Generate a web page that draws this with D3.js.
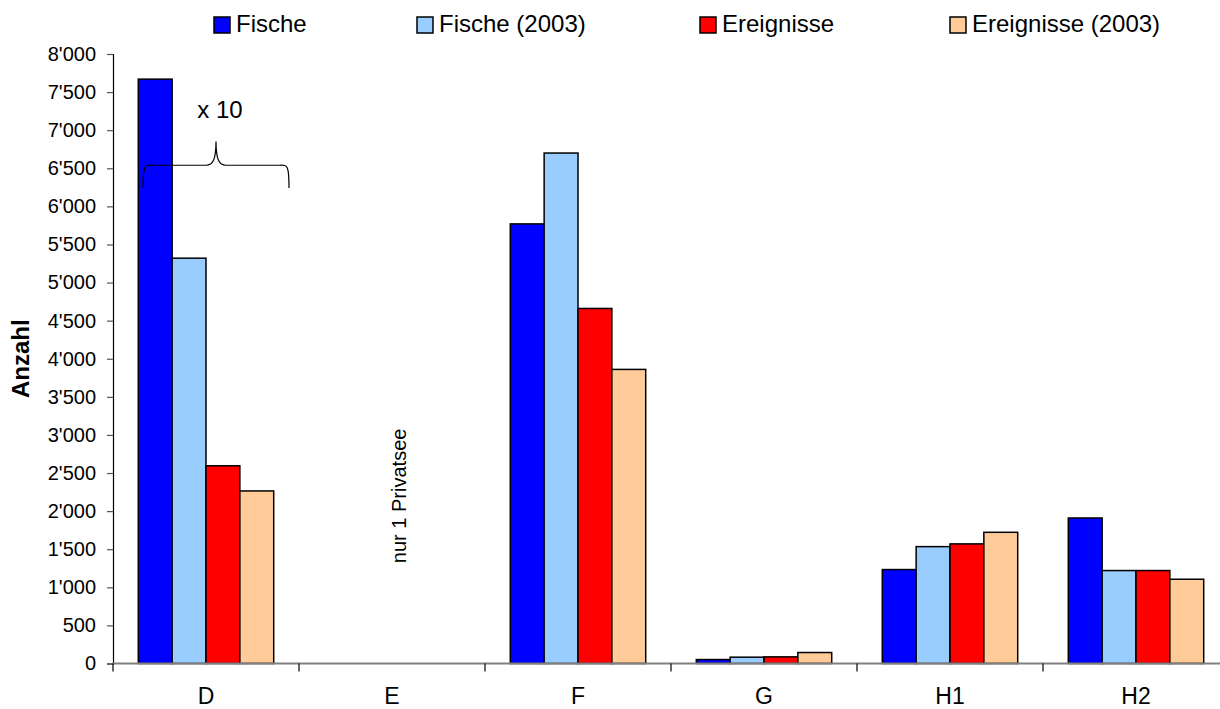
<!DOCTYPE html>
<html>
<head>
<meta charset="utf-8">
<script src="https://cdn.jsdelivr.net/npm/d3@7"></script>
<style>
  html, body { margin: 0; padding: 0; background: #fff; }
  svg { display: block; font-family: "Liberation Sans", Arial, sans-serif; }
</style>
</head>
<body>
<svg id="chart" width="1220" height="709"></svg>
<script>
// ---- data ----
const categories = ["D", "E", "F", "G", "H1", "H2"];
const seriesNames = ["Fische", "Fische (2003)", "Ereignisse", "Ereignisse (2003)"];
const fische       = [7670, null, 5770, 52, 1233, 1910];
const fische2003   = [5320, null, 6700, 83, 1534, 1220];
const ereignisse   = [2595, null, 4660, 87, 1570, 1220];
const ereignisse2003 = [2265, null, 3860, 144, 1722, 1106];
const yTicks = [0, 500, 1000, 1500, 2000, 2500, 3000, 3500, 4000, 4500, 5000, 5500, 6000, 6500, 7000, 7500, 8000];
const colors = ["#0000FF", "#99CCFF", "#FF0000", "#FFCC99"];
const yLabel = "Anzahl";
const noteE = "nur 1 Privatsee";
const noteD = "x 10";

const seriesValues = [fische, fische2003, ereignisse, ereignisse2003];

// ---- layout ----
const svg = d3.select("#chart");
const pL = 113, pR = 1229, pT = 54, pB = 663.5;

const x = d3.scaleBand().domain(categories).range([pL, pR]).padding(0);
const bw = x.bandwidth();
const x1 = d3.scaleBand().domain(seriesNames).range([bw * 0.136, bw * 0.864]).padding(0);
const y = d3.scaleLinear().domain([0, 8000]).range([pB, pT]);

const fmt = v => {
  if (v < 1000) return String(v);
  const s = String(v);
  return s.slice(0, s.length - 3) + "'" + s.slice(s.length - 3);
};

// bars
const rows = [];
categories.forEach((c, i) => {
  seriesNames.forEach((s, j) => {
    const v = seriesValues[j][i];
    if (v != null) rows.push({ c, s, v, j });
  });
});

svg.append("g").selectAll("rect").data(rows).join("rect")
  .attr("x", d => x(d.c) + x1(d.s))
  .attr("y", d => y(d.v))
  .attr("width", x1.bandwidth())
  .attr("height", d => y(0) - y(d.v))
  .attr("fill", d => colors[d.j])
  .attr("stroke", "#000")
  .attr("stroke-width", 1.5);

// y axis
const yAxis = svg.append("g").attr("transform", `translate(${pL},0)`)
  .call(d3.axisLeft(y).tickValues(yTicks).tickFormat(fmt).tickSize(6).tickPadding(11));
yAxis.select(".domain").attr("stroke", "#000").attr("stroke-width", 1.2);
yAxis.selectAll(".tick line").attr("stroke", "#555").attr("stroke-width", 1.2);
yAxis.selectAll(".tick text").attr("font-size", 20).attr("fill", "#000")
  .attr("font-family", "Liberation Sans, Arial, sans-serif");

// x axis
const xAxisG = svg.append("g").attr("transform", `translate(0,${pB})`);
xAxisG.append("line").attr("x1", pL).attr("x2", pR).attr("y1", 0).attr("y2", 0)
  .attr("stroke", "#808080").attr("stroke-width", 2);
const boundaries = categories.map(c => x(c));
xAxisG.selectAll("line.tk").data(boundaries).join("line").attr("class", "tk")
  .attr("x1", d => d).attr("x2", d => d).attr("y1", 0).attr("y2", 8)
  .attr("stroke", "#000").attr("stroke-width", 1.2);
xAxisG.selectAll("text").data(categories).join("text")
  .attr("x", d => x(d) + bw / 2)
  .attr("y", 40.5)
  .attr("text-anchor", "middle")
  .attr("font-size", 23)
  .attr("fill", "#000")
  .text(d => d);

// y label
svg.append("text")
  .attr("transform", `translate(29,${(pT + pB) / 2}) rotate(-90)`)
  .attr("text-anchor", "middle")
  .attr("font-size", 24)
  .attr("font-weight", "bold")
  .text(yLabel);

// legend
const legendX = [214, 417, 700, 950];
const lg = svg.append("g");
seriesNames.forEach((s, i) => {
  lg.append("rect").attr("x", legendX[i]).attr("y", 17).attr("width", 16).attr("height", 16)
    .attr("fill", colors[i]).attr("stroke", "#000").attr("stroke-width", 1.5);
  lg.append("text").attr("x", legendX[i] + 22).attr("y", 32)
    .attr("font-size", 24).attr("fill", "#000").text(s);
});

// annotation E
const ex = x("E") + bw / 2 + 14;
svg.append("text")
  .attr("transform", `translate(${ex},${y(2200)}) rotate(-90)`)
  .attr("text-anchor", "middle")
  .attr("font-size", 20)
  .text(noteE);

// brace over D
const bx0 = x("D") + 30, bx1 = x("D") + 176, bxm = (bx0 + bx1) / 2;
const yEnd = y(6240), yMid = y(6540), yPeak = y(6850);
const r = 10;
const brace = `M${bx0},${yEnd} C${bx0},${yMid - 2} ${bx0 + 2},${yMid} ${bx0 + r},${yMid}
  L${bxm - r},${yMid} C${bxm - 3},${yMid} ${bxm},${yMid - 6} ${bxm},${yPeak}
  C${bxm},${yMid - 6} ${bxm + 3},${yMid} ${bxm + r},${yMid}
  L${bx1 - r},${yMid} C${bx1 - 2},${yMid} ${bx1},${yMid - 2} ${bx1},${yEnd}`;
svg.append("path").attr("d", brace).attr("fill", "none").attr("stroke", "#000").attr("stroke-width", 1.2);
svg.append("text")
  .attr("x", bxm + 4).attr("y", y(7160))
  .attr("text-anchor", "middle")
  .attr("font-size", 24)
  .text(noteD);
</script>
</body>
</html>
